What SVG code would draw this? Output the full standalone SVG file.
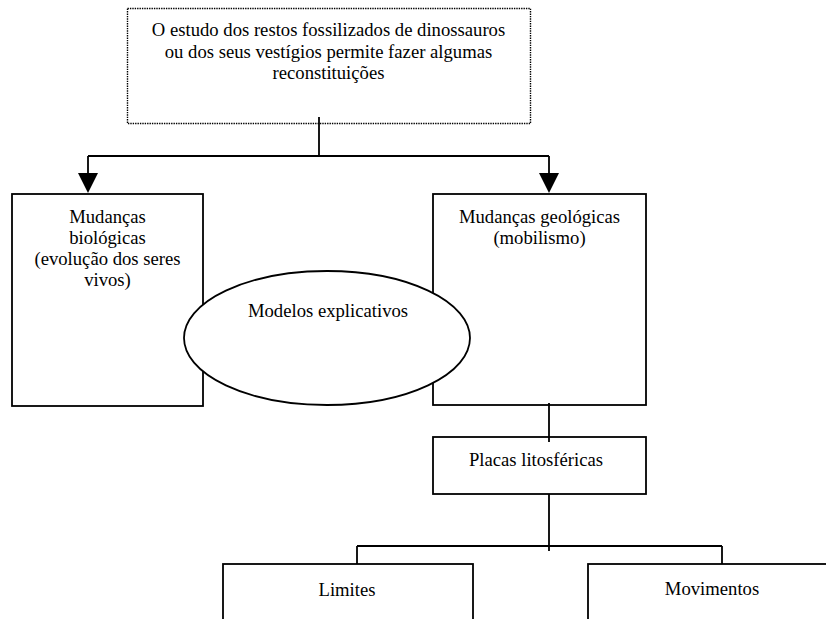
<svg xmlns="http://www.w3.org/2000/svg" width="826" height="619" viewBox="0 0 826 619">
<defs>
<style>
.box{fill:#fff;stroke:#000;stroke-width:1.8}
.dot{fill:#fff;stroke:#000;stroke-width:1.4;stroke-dasharray:1.4 1}
.t{font-family:"Liberation Serif","Times New Roman",serif;font-size:18.67px;fill:#000;text-anchor:middle}
.c{fill:none;stroke:#000;stroke-width:1.8}
.ah{fill:#000;stroke:none}
</style>
</defs>
<rect width="826" height="619" fill="#fff"/>
<g id="top">
<rect class="dot" x="127.5" y="8.5" width="403" height="115"/>
<text class="t" x="328.5" y="36">O estudo dos restos fossilizados de dinossauros</text>
<text class="t" x="328.5" y="57.5">ou dos seus vestígios permite fazer algumas</text>
<text class="t" x="328.5" y="79">reconstituições</text>
</g>
<g id="bio">
<rect class="box" x="12" y="194" width="191" height="212"/>
<text class="t" x="107.5" y="222.5">Mudanças</text>
<text class="t" x="107.5" y="243.5">biológicas</text>
<text class="t" x="107.5" y="265">(evolução dos seres</text>
<text class="t" x="107.5" y="286">vivos)</text>
</g>
<g id="geo">
<rect class="box" x="433" y="194" width="213" height="211"/>
<text class="t" x="539.5" y="222.5">Mudanças geológicas</text>
<text class="t" x="539.5" y="244">(mobilismo)</text>
</g>
<g id="modelos">
<ellipse class="box" cx="327" cy="338" rx="143" ry="67"/>
<text class="t" x="328" y="317">Modelos explicativos</text>
</g>
<g id="placas">
<rect class="box" x="433" y="437" width="213" height="57"/>
<text class="t" x="536" y="466">Placas litosféricas</text>
</g>
<g id="limites">
<rect class="box" x="223" y="564" width="250" height="80"/>
<text class="t" x="347" y="596">Limites</text>
</g>
<g id="movimentos">
<rect class="box" x="588" y="564" width="250" height="80"/>
<text class="t" x="712" y="595">Movimentos</text>
</g>
<g id="connectors">
<path class="c" d="M319 117V156M88 156H549M88 156V174M549 156V174"/>
<polygon class="ah" points="78,173 98,173 88,193"/>
<polygon class="ah" points="539,173 559,173 549,193"/>
<path class="c" d="M549 403V442M549 494V551M357 546H722M357 546V564M722 546V564"/>
</g>
</svg>
